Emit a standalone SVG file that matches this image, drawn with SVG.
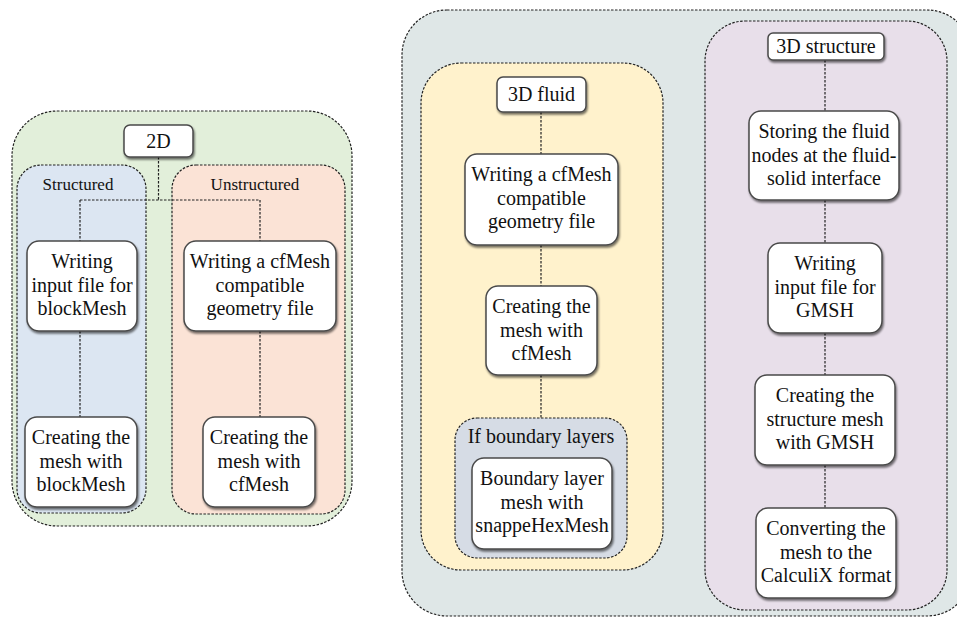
<svg xmlns="http://www.w3.org/2000/svg" width="957" height="626" viewBox="0 0 957 626">
<defs>
<filter id="sh" x="-10%" y="-10%" width="125%" height="125%">
<feGaussianBlur in="SourceAlpha" stdDeviation="1.2"/>
<feOffset dx="1.2" dy="1.5" result="b"/>
<feComponentTransfer><feFuncA type="linear" slope="0.55"/></feComponentTransfer>
<feMerge><feMergeNode/><feMergeNode in="SourceGraphic"/></feMerge>
</filter>
</defs>
<style>
.grp{stroke:#222;stroke-width:1.2;stroke-dasharray:2.5 1.5;}
.node rect{fill:#fff;stroke:#4a4a4a;stroke-width:1.5;filter:url(#sh);}
text{font-family:"Liberation Serif","Times New Roman",serif;font-size:20px;fill:#111;text-anchor:middle;}
.lbl{font-size:17px;}
.con{fill:none;stroke:#222;stroke-width:1.2;stroke-dasharray:2.5 1.5;}
</style>
<rect width="957" height="626" fill="#fff"/>

<g id="group-2d">
<rect class="grp" x="12" y="111" width="340" height="415" rx="45" fill="#e2efda"/>
<rect class="grp" x="17" y="165" width="129" height="348" rx="24" fill="#dce6f2"/>
<text class="lbl" x="78" y="190">Structured</text>
<rect class="grp" x="172" y="165" width="173" height="349" rx="24" fill="#fbe3d6"/>
<text class="lbl" x="255" y="190">Unstructured</text>
</g>

<g id="group-3d">
<rect class="grp" x="402" y="10" width="570" height="606" rx="45" fill="#dfe7e7"/>
<rect class="grp" x="421" y="63" width="242" height="507" rx="40" fill="#fff2cc"/>
<rect class="grp" x="705" y="21" width="242" height="589" rx="40" fill="#e8dfea"/>
<rect class="grp" x="455" y="418" width="172" height="140" rx="22" fill="#d6dce5"/>
<text x="541" y="443">If boundary layers</text>
</g>

<g id="connectors">
<path class="con" d="M158.5 157 V200 M80 200 H260 M80 200 V241 M260 200 V241"/>
<path class="con" d="M80 331 V417 M260 331 V417"/>
<path class="con" d="M541 112 V154 M541 245 V286 M541 375 V418"/>
<path class="con" d="M825 60 V111 M825 200 V243 M825 333 V375 M825 465 V508"/>
</g>

<g id="n-2d" class="node"><rect x="124" y="125" width="69" height="32" rx="6"/><text x="158.5" y="148">2D</text></g>
<g id="n-wb" class="node"><rect x="27" y="241" width="110" height="90" rx="12"/><text x="82" y="268">Writing<tspan x="82" dy="23.5">input file for</tspan><tspan x="82" dy="23.5">blockMesh</tspan></text></g>
<g id="n-wc" class="node"><rect x="184" y="241" width="152" height="90" rx="12"/><text x="260" y="268">Writing a cfMesh<tspan x="260" dy="23.5">compatible</tspan><tspan x="260" dy="23.5">geometry file</tspan></text></g>
<g id="n-cb" class="node"><rect x="25" y="417" width="112" height="90" rx="12"/><text x="81" y="444">Creating the<tspan x="81" dy="23.5">mesh with</tspan><tspan x="81" dy="23.5">blockMesh</tspan></text></g>
<g id="n-cc" class="node"><rect x="203" y="417" width="112" height="90" rx="12"/><text x="259" y="444">Creating the<tspan x="259" dy="23.5">mesh with</tspan><tspan x="259" dy="23.5">cfMesh</tspan></text></g>

<g id="n-3df" class="node"><rect x="497" y="77" width="89" height="35" rx="6"/><text x="541.5" y="101">3D fluid</text></g>
<g id="n-wc3" class="node"><rect x="465" y="154" width="153" height="91" rx="12"/><text x="541.5" y="181">Writing a cfMesh<tspan x="541.5" dy="23.5">compatible</tspan><tspan x="541.5" dy="23.5">geometry file</tspan></text></g>
<g id="n-cf3" class="node"><rect x="486" y="286" width="111" height="89" rx="12"/><text x="541.5" y="313">Creating the<tspan x="541.5" dy="23.5">mesh with</tspan><tspan x="541.5" dy="23.5">cfMesh</tspan></text></g>
<g id="n-bl" class="node"><rect x="472" y="458" width="140" height="91" rx="12"/><text x="542" y="485">Boundary layer<tspan x="542" dy="23.5">mesh with</tspan><tspan x="542" dy="23.5">snappeHexMesh</tspan></text></g>

<g id="n-3ds" class="node"><rect x="768" y="33" width="116" height="27" rx="5"/><text x="826" y="53">3D structure</text></g>
<g id="n-s1" class="node"><rect x="749" y="111" width="150" height="89" rx="12"/><text x="824" y="138">Storing the fluid<tspan x="824" dy="23.5">nodes at the fluid-</tspan><tspan x="824" dy="23.5">solid interface</tspan></text></g>
<g id="n-s2" class="node"><rect x="768" y="243" width="114" height="90" rx="12"/><text x="825" y="270">Writing<tspan x="825" dy="23.5">input file for</tspan><tspan x="825" dy="23.5">GMSH</tspan></text></g>
<g id="n-s3" class="node"><rect x="755" y="375" width="140" height="90" rx="12"/><text x="825" y="402">Creating the<tspan x="825" dy="23.5">structure mesh</tspan><tspan x="825" dy="23.5">with GMSH</tspan></text></g>
<g id="n-s4" class="node"><rect x="756" y="508" width="140" height="90" rx="12"/><text x="826" y="535">Converting the<tspan x="826" dy="23.5">mesh to the</tspan><tspan x="826" dy="23.5">CalculiX format</tspan></text></g>
</svg>
